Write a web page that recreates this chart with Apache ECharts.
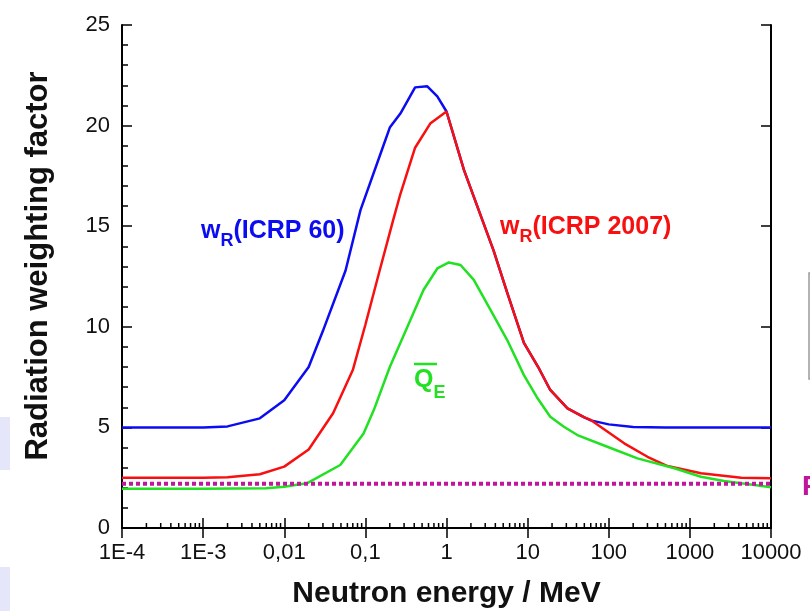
<!DOCTYPE html>
<html>
<head>
<meta charset="utf-8">
<script src="https://cdn.jsdelivr.net/npm/echarts@6/dist/echarts.min.js"></script>
<style>
html,body{margin:0;padding:0;background:#fff;}
#chart{width:810px;height:611px;}
</style>
</head>
<body>
<div id="chart"></div>
<script>
// ---- data (energy in MeV) ----
const xTickLabels = ['1E-4','1E-3','0,01','0,1','1','10','100','1000','10000'];
const icrp60E = [1e-4, 1e-3, 2e-3, 5e-3, 1e-2, 2e-2, 3e-2, 5.7e-2, 8.7e-2, 0.16, 0.2, 0.27, 0.41, 0.58, 0.77, 1.0, 1.64, 2.6, 3.8, 5.6, 9, 13.5, 19, 31, 50, 60, 100, 200, 500, 1e4];
const icrp60W = [5.0, 5.0, 5.05, 5.45, 6.35, 8.0, 9.8, 12.8, 15.8, 18.8, 19.9, 20.6, 21.9, 21.95, 21.45, 20.7, 17.8, 15.6, 13.8, 11.7, 9.2, 8.0, 6.86, 5.95, 5.5, 5.35, 5.15, 5.02, 5.0, 5.0];
const icrp2007E = [1e-4, 1e-3, 2e-3, 5e-3, 1e-2, 2e-2, 4e-2, 7e-2, 0.1, 0.15, 0.22, 0.27, 0.41, 0.63, 1.0, 1.64, 2.6, 3.8, 5.6, 9, 13.5, 19, 31, 50, 60, 155, 300, 530, 1370, 4300, 1e4];
const icrp2007W = [2.5, 2.5, 2.52, 2.67, 3.05, 3.9, 5.7, 7.85, 10.1, 12.8, 15.3, 16.6, 18.9, 20.1, 20.7, 17.8, 15.6, 13.8, 11.7, 9.2, 8.0, 6.86, 5.95, 5.5, 5.37, 4.21, 3.54, 3.08, 2.72, 2.5, 2.47];
const qEnergy = [1e-4, 1e-3, 6e-3, 1e-2, 1.9e-2, 4.9e-2, 9.5e-2, 0.127, 0.2, 0.33, 0.52, 0.77, 1.07, 1.49, 2.17, 3.5, 5.6, 9, 13, 19, 28, 41, 96, 226, 645, 1370, 2630, 4300, 1e4];
const qValue  = [1.95, 1.95, 1.97, 2.05, 2.22, 3.13, 4.7, 5.86, 8.0, 10.0, 11.83, 12.9, 13.2, 13.07, 12.33, 10.83, 9.34, 7.6, 6.5, 5.53, 5.03, 4.62, 4.04, 3.46, 2.97, 2.55, 2.34, 2.22, 2.02];
const refLevel = 2.2;
const refLineEnergy = [1e-4, 16000];
const decades = [-4, -3, -2, -1, 0, 1, 2, 3];

// ---- build ----
const zip = (xs, ys) => xs.map((x, i) => [x, ys[i]]);
const minorTicks = [];
decades.forEach(d => { for (let m = 2; m <= 9; m++) minorTicks.push([m * Math.pow(10, d), 0]); });

const FONT = 'Liberation Sans';
const BLUE = '#0c0cf2', RED = '#f81010', GREEN = '#22e022', MAG = '#c0169e';
const axisLine = {lineStyle: {color: '#000', width: 2}};

const measureCtx = document.createElement('canvas').getContext('2d');
function textW(t, size) {
  measureCtx.font = 'bold ' + size + 'px "' + FONT + '"';
  return measureCtx.measureText(t).width;
}
// label made of: main text, subscript, main text
function subLabel(x, yMain, ySub, a, sub, b, color, mainSize, subSize) {
  const els = [];
  const mk = (t, px, py, s) => ({type: 'text', x: px, y: py, z: 20,
    style: {text: t, fontFamily: FONT, fontSize: s, fontWeight: 'bold', fill: color, align: 'left', verticalAlign: 'middle'}});
  let cx = x;
  if (a) { els.push(mk(a, cx, yMain, mainSize)); cx += textW(a, mainSize); }
  els.push(mk(sub, cx, ySub, subSize)); cx += textW(sub, subSize);
  if (b) { els.push(mk(b, cx, yMain, mainSize)); }
  return els;
}

const chart = echarts.init(document.getElementById('chart'), null, {renderer: 'canvas'});
chart.setOption({
  animation: false,
  backgroundColor: '#fff',
  grid: {left: 122, right: 39, top: 25, bottom: 83, containLabel: false, outerBoundsMode: 'none'},
  xAxis: [{
    type: 'log', logBase: 10, min: 1e-4, max: 1e4, splitNumber: 8, position: 'bottom',
    axisLine: axisLine,
    axisTick: {inside: true, length: 10, lineStyle: {color: '#000', width: 1.5}},
    splitLine: {show: false},
    axisLabel: {
      fontFamily: FONT, fontSize: 22, color: '#111', margin: 14,
      formatter: v => xTickLabels[Math.round(Math.log10(v)) + 4]
    },
    name: 'Neutron energy / MeV', nameLocation: 'middle', nameGap: 51,
    nameTextStyle: {fontFamily: FONT, fontSize: 30, fontWeight: 'bold', color: '#111'}
  }, {
    type: 'log', logBase: 10, min: 1e-4, max: 1e4, splitNumber: 8, position: 'top',
    axisLine: axisLine,
    axisTick: {inside: true, length: 10, lineStyle: {color: '#000', width: 1.5}},
    axisLabel: {show: false}, splitLine: {show: false}
  }],
  yAxis: [{
    type: 'value', min: 0, max: 25, interval: 5, position: 'left',
    axisLine: axisLine,
    axisTick: {inside: true, length: 10, lineStyle: {color: '#000', width: 1.5}},
    minorTick: {show: true, splitNumber: 5, length: 6, lineStyle: {color: '#000', width: 1.5}},
    splitLine: {show: false},
    axisLabel: {fontFamily: FONT, fontSize: 22, color: '#111', margin: 12}
  }, {
    type: 'value', min: 0, max: 25, interval: 5, position: 'right',
    axisLine: axisLine,
    axisTick: {inside: true, length: 10, lineStyle: {color: '#000', width: 1.5}},
    axisLabel: {show: false}, splitLine: {show: false}
  }],
  series: [{
    type: 'custom', xAxisIndex: 0, yAxisIndex: 0, silent: true, clip: false,
    data: minorTicks,
    renderItem: (params, api) => {
      const p = api.coord([api.value(0), api.value(1)]);
      return {type: 'line', shape: {x1: p[0], y1: p[1], x2: p[0], y2: p[1] - 5},
              style: {stroke: '#000', lineWidth: 1.5}};
    }
  }, {
    type: 'line', name: 'ICRP 60', data: zip(icrp60E, icrp60W), symbol: 'none',
    lineStyle: {color: BLUE, width: 2.5}, z: 3
  }, {
    type: 'line', name: 'ICRP 2007', data: zip(icrp2007E, icrp2007W), symbol: 'none',
    lineStyle: {color: RED, width: 2.5}, z: 4
  }, {
    type: 'line', name: 'QE', data: zip(qEnergy, qValue), symbol: 'none',
    lineStyle: {color: GREEN, width: 2.5}, z: 5
  }, {
    type: 'line', name: 'ref', data: refLineEnergy.map(e => [e, refLevel]), symbol: 'none', clip: false,
    lineStyle: {color: MAG, width: 4, type: [4, 3], cap: 'butt'}, z: 6
  }],
  graphic: [
    {type: 'rect', left: 0, top: 417, shape: {width: 10, height: 53}, style: {fill: '#e6e6fa'}, z: -1},
    {type: 'rect', left: 0, top: 567, shape: {width: 10, height: 44}, style: {fill: '#e6e6fa'}, z: -1},
    {type: 'rect', x: 809, y: 273, shape: {width: 60, height: 106}, style: {fill: 'none', stroke: '#9a9a9a', lineWidth: 1.5}},
    {type: 'text', x: 802, y: 487, style: {text: 'R', fontFamily: FONT, fontSize: 28, fontWeight: 'bold', fill: MAG, verticalAlign: 'middle', align: 'left'}},
    {type: 'text', x: 38, y: 266, rotation: Math.PI / 2,
     style: {text: 'Radiation weighting factor', fontFamily: FONT, fontSize: 31, fontWeight: 'bold', fill: '#111', align: 'center', verticalAlign: 'middle'}},
    ...subLabel(201, 231, 241, 'w', 'R', '(ICRP 60)', BLUE, 25, 18),
    ...subLabel(500, 227, 237, 'w', 'R', '(ICRP 2007)', RED, 25, 18),
    ...subLabel(414, 380, 393, 'Q', 'E', '', GREEN, 25, 18),
    {type: 'line', shape: {x1: 414, y1: 364, x2: 437, y2: 364}, style: {stroke: GREEN, lineWidth: 2.5}}
  ]
});
</script>
</body>
</html>
